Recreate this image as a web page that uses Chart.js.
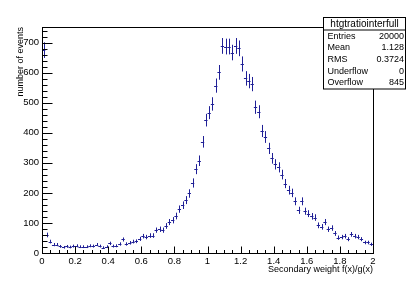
<!DOCTYPE html>
<html>
<head>
<meta charset="utf-8">
<script src="https://cdn.jsdelivr.net/npm/chart.js@4/dist/chart.umd.min.js"></script>
<style>
  html, body { margin: 0; padding: 0; background: #fff; }
</style>
</head>
<body>
<canvas id="histo" width="415" height="281"></canvas>
<script>
// histogram binning: 100 bins from 0 to 2
const binLow = 0;
const binWidth = 0.02;
const counts = [
  675, 60, 38, 28, 28, 22, 19, 22, 20, 23,
  24, 21, 21, 21, 24, 23, 28, 23, 18, 21,
  32, 23, 24, 30, 45, 30, 34, 38, 39, 47,
  56, 53, 58, 58, 76, 79, 76, 90, 103, 109,
  123, 146, 159, 176, 198, 233, 279, 307, 370, 442,
  467, 496, 557, 601, 689, 687, 687, 667, 689, 681,
  629, 581, 572, 562, 485, 470, 406, 386, 348, 315,
  295, 285, 261, 231, 209, 200, 172, 142, 172, 139,
  131, 122, 118, 92, 87, 103, 79, 83, 65, 51,
  53, 56, 46, 62, 56, 53, 46, 35, 35, 29
];
const xTicks = [0, 0.2, 0.4, 0.6, 0.8, 1, 1.2, 1.4, 1.6, 1.8, 2];
const yTicks = [0, 100, 200, 300, 400, 500, 600, 700];
const xMinorStep = 0.05;
const yMinorStep = 20;
const yMax = 752;

const statsTitle = 'htgtratiointerfull';
const statsLabels = ['Entries', 'Mean', 'RMS', 'Underflow', 'Overflow'];
const statsValues = ['20000', '1.128', '0.3724', '0', '845'];

const FONT = '"Liberation Sans", Arial, sans-serif';
const MARK = '#1f1f96';

const points = counts.map((v, i) => ({ x: binLow + (i + 0.5) * binWidth, y: v }));

// error bars (sqrt N) + bin width, drawn through the chart scales
const errorBars = {
  id: 'errorBars',
  afterDatasetsDraw(chart) {
    const xs = chart.scales.x, ys = chart.scales.y, ctx = chart.ctx;
    const area = chart.chartArea;
    ctx.save();
    ctx.beginPath();
    ctx.rect(area.left, area.top, area.right - area.left, area.bottom - area.top);
    ctx.clip();
    ctx.strokeStyle = MARK;
    ctx.lineWidth = 1;
    points.forEach(p => {
      const err = Math.sqrt(p.y);
      const px = Math.round(xs.getPixelForValue(p.x)) + 0.5;
      const py = Math.round(ys.getPixelForValue(p.y)) + 0.5;
      const xl = xs.getPixelForValue(p.x - binWidth / 2);
      const xr = xs.getPixelForValue(p.x + binWidth / 2);
      ctx.beginPath();
      ctx.moveTo(px, ys.getPixelForValue(p.y - err));
      ctx.lineTo(px, ys.getPixelForValue(p.y + err));
      ctx.moveTo(xl, py);
      ctx.lineTo(xr, py);
      ctx.stroke();
    });
    ctx.restore();
  }
};

// ROOT style frame with inward ticks, plus the stats box
const rootFrame = {
  id: 'rootFrame',
  afterDraw(chart) {
    const xs = chart.scales.x, ys = chart.scales.y, ctx = chart.ctx;
    const a = chart.chartArea;
    const L = Math.round(a.left) + 0.5, R = Math.round(a.right) + 0.5;
    const T = Math.round(a.top) + 0.5, B = Math.round(a.bottom) + 0.5;
    ctx.save();
    ctx.strokeStyle = '#000';
    ctx.lineWidth = 1;
    ctx.strokeRect(L, T, R - L, B - T);

    ctx.beginPath();
    // y ticks
    for (let v = 0; v <= yMax; v += yMinorStep) {
      const py = Math.round(ys.getPixelForValue(v)) + 0.5;
      const len = (v % 100 === 0) ? 10 : 5;
      ctx.moveTo(L, py);
      ctx.lineTo(L + len, py);
    }
    // x ticks
    for (let k = 0; k <= 40; k++) {
      const v = k * xMinorStep;
      const px = Math.round(xs.getPixelForValue(v)) + 0.5;
      const len = (k % 4 === 0) ? 7 : 3.5;
      ctx.moveTo(px, B);
      ctx.lineTo(px, B - len);
    }
    ctx.stroke();

    // stats box
    const bx = 323.5, by = 17.5, bw = 82, rowH = 11.6, headH = 12.5;
    const bh = headH + rowH * statsLabels.length + 1;
    ctx.fillStyle = '#fff';
    ctx.fillRect(bx, by, bw, bh);
    ctx.strokeRect(bx, by, bw, bh);
    ctx.beginPath();
    ctx.moveTo(bx, by + headH);
    ctx.lineTo(bx + bw, by + headH);
    ctx.stroke();
    ctx.fillStyle = '#000';
    ctx.textBaseline = 'middle';
    ctx.textAlign = 'center';
    ctx.font = '10px ' + FONT;
    ctx.fillText(statsTitle, bx + bw / 2, by + headH / 2 + 0.5);
    ctx.font = '9px ' + FONT;
    statsLabels.forEach((lab, i) => {
      const ty = by + headH + rowH * (i + 0.5) + 0.5;
      ctx.textAlign = 'left';
      ctx.fillText(lab, bx + 4, ty);
      ctx.textAlign = 'right';
      ctx.fillText(statsValues[i], bx + bw - 1.5, ty);
    });
    ctx.restore();
  }
};

new Chart(document.getElementById('histo'), {
  type: 'scatter',
  data: {
    datasets: [{
      label: statsTitle,
      data: points,
      pointRadius: 0,
      pointHoverRadius: 0,
      showLine: false
    }]
  },
  options: {
    responsive: false,
    animation: false,
    events: [],
    layout: { padding: { left: 0, top: 27, right: 42, bottom: 0 } },
    plugins: { legend: { display: false }, tooltip: { enabled: false } },
    scales: {
      x: {
        type: 'linear',
        min: 0,
        max: 2,
        grid: { display: false, drawTicks: false },
        border: { display: false },
        afterBuildTicks(scale) { scale.ticks = xTicks.map(v => ({ value: v })); },
        afterFit(scale) { scale.height = 28; },
        ticks: {
          padding: 3,
          maxRotation: 0,
          autoSkip: false,
          color: '#000',
          font: { family: FONT, size: 9.5 },
          callback: v => String(Math.round(v * 10) / 10)
        },
        title: {
          display: true,
          text: 'Secondary weight f(x)/g(x)',
          align: 'end',
          color: '#000',
          font: { family: FONT, size: 9 },
          padding: { top: 0, bottom: 6 }
        }
      },
      y: {
        type: 'linear',
        min: 0,
        max: yMax,
        grid: { display: false, drawTicks: false },
        border: { display: false },
        afterBuildTicks(scale) { scale.ticks = yTicks.map(v => ({ value: v })); },
        afterFit(scale) { scale.width = 42; },
        ticks: {
          padding: 3,
          color: '#000',
          font: { family: FONT, size: 9.5 }
        },
        title: {
          display: true,
          text: 'number of events',
          align: 'end',
          color: '#000',
          font: { family: FONT, size: 9 },
          padding: { top: 15, bottom: 0 }
        }
      }
    }
  },
  plugins: [errorBars, rootFrame]
});
</script>
</body>
</html>
